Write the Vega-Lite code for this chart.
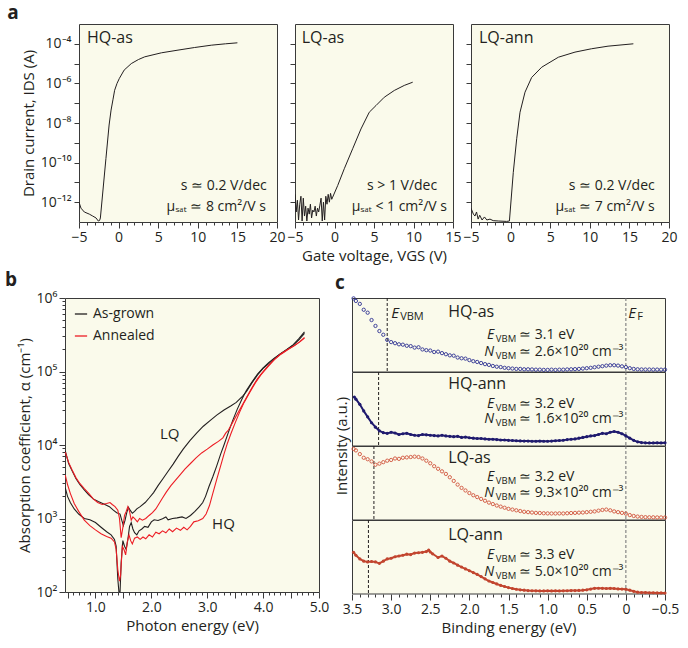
{
"$schema": "https://vega.github.io/schema/vega-lite/v6.json",
"padding": {"left": 4, "top": 3, "right": 4, "bottom": 4},
"background": "white",
"columns": 1,
"spacing": 6,
"resolve": {"scale": {"color": "independent"}, "legend": {"color": "independent"}},
"config": {
  "font": "Open Sans",
  "view": {"fill": "#fafaeb", "stroke": "#3a3a3a", "strokeWidth": 1},
  "axis": {"domain": false, "grid": false, "tickColor": "#3a3a3a", "tickWidth": 1, "labelColor": "#231f20", "titleColor": "#231f20", "labelFontSize": 14, "titleFontSize": 15, "titleFontWeight": "normal", "labelFont": "Open Sans", "titleFont": "Open Sans", "labelFlush": false, "labelOverlap": false},
  "title": {"anchor": "start", "frame": "bounds", "fontSize": 19, "fontWeight": "bold", "color": "#231f20", "offset": 1, "font": "Open Sans"},
  "text": {"color": "#231f20", "font": "Open Sans"}
},
"concat": [
 {"hconcat": [
  {"width": 1, "height": 1, "data": {"values": [{"z": 0}]}, "mark": {"type": "point", "opacity": 0}, "view": {"stroke": null, "fill": null}},
  {"hconcat": [
  {"width": 198, "height": 198, "title": {"text": "a", "dx": -14},
   "layer": [
    {"data": {"values": [
      {"v":-5.0,"i":1.0e-12},{"v":-4.75,"i":5.0e-13},{"v":-4.33,"i":3.2e-13},{"v":-3.7,"i":2.5e-13},{"v":-3.27,"i":2.0e-13},{"v":-2.85,"i":1.6e-13},{"v":-2.56,"i":1.12e-13},{"v":-2.4,"i":1.2e-13},{"v":-2.3,"i":1.6e-13},{"v":-1.6,"i":1.6e-10},{"v":-1.2,"i":7.9e-9},{"v":-0.95,"i":4.5e-8},{"v":-0.7,"i":1.6e-7},{"v":-0.5,"i":4.5e-7},{"v":-0.2,"i":1.0e-6},{"v":0.1,"i":1.8e-6},{"v":0.7,"i":4.7e-6},{"v":1.6,"i":1.0e-5},{"v":2.5,"i":1.6e-5},{"v":3.3,"i":2.2e-5},{"v":5.4,"i":3.5e-5},{"v":7.5,"i":4.8e-5},{"v":9.6,"i":6.5e-5},{"v":11.7,"i":8.5e-5},{"v":13.5,"i":1.0e-4},{"v":15.0,"i":1.12e-4}]},
     "mark": {"type": "line", "color": "#231f20", "strokeWidth": 1, "clip": true},
     "encoding": {
      "x": {"field": "v", "type": "quantitative", "scale": {"domain": [-5, 20], "nice": false, "zero": false},
            "axis": {"values": [-5,-4,-3,-2,-1,0,1,2,3,4,5,6,7,8,9,10,11,12,13,14,15,16,17,18,19,20], "tickCount": 100, "labelExpr": "datum.value % 5 == 0 ? format(datum.value, 'd') : ''", "tickSize": {"condition": {"test": "datum.value % 5 == 0", "value": 6}, "value": 3}, "labelPadding": 2, "labelOverlap": false, "title": null}},
      "y": {"field": "i", "type": "quantitative", "scale": {"type": "log", "domain": [1e-13, 0.001], "nice": false},
            "axis": {"values": [1e-12,1e-11,1e-10,1e-9,1e-8,1e-7,1e-6,1e-5,1e-4], "tickCount": 100, "labelExpr": "round(log(datum.value)/LN10) == -4 ? '10⁻⁴' : round(log(datum.value)/LN10) == -6 ? '10⁻⁶' : round(log(datum.value)/LN10) == -8 ? '10⁻⁸' : round(log(datum.value)/LN10) == -10 ? '10⁻¹⁰' : round(log(datum.value)/LN10) == -12 ? '10⁻¹²' : ''", "tickSize": 5, "labelPadding": 3, "labelOverlap": false, "title": "Drain current, IDS (A)", "titlePadding": 4}}
     }},
    {"data": {"values": [{"v": -4.0, "i": 1.86e-4, "t": "HQ-as"}]},
     "mark": {"type": "text", "align": "left", "baseline": "middle", "fontSize": 16},
     "encoding": {"x": {"field": "v", "type": "quantitative"}, "y": {"field": "i", "type": "quantitative"}, "text": {"field": "t"}}},
    {"data": {"values": [{"v": 18.7, "i": 6.5e-12, "t": "s ≃ 0.2 V/dec"}, {"v": 18.6, "i": 5.9e-13, "t": "μₛₐₜ ≃ 8 cm²/V s"}]},
     "mark": {"type": "text", "align": "right", "baseline": "middle", "fontSize": 14},
     "encoding": {"x": {"field": "v", "type": "quantitative"}, "y": {"field": "i", "type": "quantitative"}, "text": {"field": "t"}}}
   ]},
  {"width": 158, "height": 198,
   "layer": [
    {"data": {"values": [
      {"v":-5.0,"i":2.5e-12},{"v":-4.85,"i":3.2e-13},{"v":-4.7,"i":1.26e-12},{"v":-4.55,"i":1.26e-13},{"v":-4.4,"i":7.9e-13},{"v":-4.25,"i":2.0e-12},{"v":-4.1,"i":1.12e-13},{"v":-3.95,"i":1.6e-12},{"v":-3.8,"i":2.0e-13},{"v":-3.65,"i":6.3e-13},{"v":-3.5,"i":1.12e-13},{"v":-3.35,"i":5.0e-13},{"v":-3.2,"i":2.5e-13},{"v":-3.05,"i":7.9e-13},{"v":-2.9,"i":1.6e-13},{"v":-2.75,"i":4.0e-13},{"v":-2.6,"i":3.2e-13},{"v":-2.45,"i":6.3e-13},{"v":-2.3,"i":2.0e-13},{"v":-2.15,"i":5.0e-13},{"v":-2.0,"i":3.2e-13},{"v":-1.85,"i":7.1e-13},{"v":-1.7,"i":1.6e-12},{"v":-1.55,"i":1.12e-13},{"v":-1.4,"i":1.0e-12},{"v":-1.25,"i":1.26e-13},{"v":-1.1,"i":2.0e-12},{"v":-0.95,"i":7.9e-13},{"v":-0.8,"i":2.5e-12},{"v":-0.65,"i":1.0e-12},{"v":-0.5,"i":2.8e-12},{"v":-0.35,"i":1.4e-12},{"v":-0.23,"i":1.8e-12},{"v":0.4,"i":6.9e-12},{"v":1.24,"i":4.9e-11},{"v":2.3,"i":5.0e-10},{"v":3.35,"i":5.0e-9},{"v":4.4,"i":3.5e-8},{"v":5.25,"i":7.6e-8},{"v":6.3,"i":2.0e-7},{"v":7.57,"i":4.4e-7},{"v":8.83,"i":7.9e-7},{"v":9.9,"i":1.15e-6}]},
     "mark": {"type": "line", "color": "#231f20", "strokeWidth": 1, "clip": true},
     "encoding": {
      "x": {"field": "v", "type": "quantitative", "scale": {"domain": [-5, 15], "nice": false, "zero": false},
            "axis": {"values": [-5,-4,-3,-2,-1,0,1,2,3,4,5,6,7,8,9,10,11,12,13,14,15], "tickCount": 100, "labelExpr": "datum.value % 5 == 0 ? format(datum.value, 'd') : ''", "tickSize": {"condition": {"test": "datum.value % 5 == 0", "value": 6}, "value": 3}, "labelPadding": 2, "labelOverlap": false, "title": "Gate voltage, VGS (V)", "titlePadding": 4}},
      "y": {"field": "i", "type": "quantitative", "scale": {"type": "log", "domain": [1e-13, 0.001], "nice": false},
            "axis": {"values": [1e-12,1e-11,1e-10,1e-9,1e-8,1e-7,1e-6,1e-5,1e-4], "tickCount": 100, "labels": false, "tickSize": 5, "title": null}}
     }},
    {"data": {"values": [{"v": -4.15, "i": 1.86e-4, "t": "LQ-as"}]},
     "mark": {"type": "text", "align": "left", "baseline": "middle", "fontSize": 16},
     "encoding": {"x": {"field": "v", "type": "quantitative"}, "y": {"field": "i", "type": "quantitative"}, "text": {"field": "t"}}},
    {"data": {"values": [{"v": 13.0, "i": 6.5e-12, "t": "s > 1 V/dec"}, {"v": 14.24, "i": 5.9e-13, "t": "μₛₐₜ < 1 cm²/V s"}]},
     "mark": {"type": "text", "align": "right", "baseline": "middle", "fontSize": 14},
     "encoding": {"x": {"field": "v", "type": "quantitative"}, "y": {"field": "i", "type": "quantitative"}, "text": {"field": "t"}}}
   ]},
  {"width": 198, "height": 198,
   "layer": [
    {"data": {"values": [
      {"v":-5.0,"i":5.0e-13},{"v":-4.7,"i":2.5e-13},{"v":-4.5,"i":2.0e-13},{"v":-4.3,"i":3.2e-13},{"v":-4.1,"i":1.4e-13},{"v":-3.9,"i":2.2e-13},{"v":-3.6,"i":1.26e-13},{"v":-3.3,"i":1.8e-13},{"v":-3.0,"i":1.26e-13},{"v":-2.6,"i":1.4e-13},{"v":-2.2,"i":1.17e-13},{"v":-1.5,"i":1.12e-13},{"v":-0.5,"i":1.07e-13},{"v":-0.15,"i":1.12e-13},{"v":0.34,"i":3.2e-11},{"v":0.77,"i":1.6e-9},{"v":1.19,"i":3.5e-8},{"v":1.82,"i":3.6e-7},{"v":2.66,"i":2.0e-6},{"v":3.93,"i":6.6e-6},{"v":6.03,"i":2.1e-5},{"v":8.13,"i":3.8e-5},{"v":10.2,"i":5.6e-5},{"v":12.3,"i":7.6e-5},{"v":15.5,"i":1.0e-4}]},
     "mark": {"type": "line", "color": "#231f20", "strokeWidth": 1, "clip": true},
     "encoding": {
      "x": {"field": "v", "type": "quantitative", "scale": {"domain": [-5, 20], "nice": false, "zero": false},
            "axis": {"values": [-5,-4,-3,-2,-1,0,1,2,3,4,5,6,7,8,9,10,11,12,13,14,15,16,17,18,19,20], "tickCount": 100, "labelExpr": "datum.value % 5 == 0 ? format(datum.value, 'd') : ''", "tickSize": {"condition": {"test": "datum.value % 5 == 0", "value": 6}, "value": 3}, "labelPadding": 2, "labelOverlap": false, "title": null}},
      "y": {"field": "i", "type": "quantitative", "scale": {"type": "log", "domain": [1e-13, 0.001], "nice": false},
            "axis": {"values": [1e-12,1e-11,1e-10,1e-9,1e-8,1e-7,1e-6,1e-5,1e-4], "tickCount": 100, "labels": false, "tickSize": 5, "title": null}}
     }},
    {"data": {"values": [{"v": -3.99, "i": 1.86e-4, "t": "LQ-ann"}]},
     "mark": {"type": "text", "align": "left", "baseline": "middle", "fontSize": 16},
     "encoding": {"x": {"field": "v", "type": "quantitative"}, "y": {"field": "i", "type": "quantitative"}, "text": {"field": "t"}}},
    {"data": {"values": [{"v": 18.2, "i": 6.5e-12, "t": "s ≃ 0.2 V/dec"}, {"v": 18.2, "i": 5.9e-13, "t": "μₛₐₜ ≃ 7 cm²/V s"}]},
     "mark": {"type": "text", "align": "right", "baseline": "middle", "fontSize": 14},
     "encoding": {"x": {"field": "v", "type": "quantitative"}, "y": {"field": "i", "type": "quantitative"}, "text": {"field": "t"}}}
   ]}
  ], "spacing": 18, "bounds": "flush"}
 ], "spacing": 13, "bounds": "flush"},
 {"hconcat": [
  {"width": 254, "height": 294, "title": {"text": "b", "dx": -12},
   "layer": [
    {"data": {"values": [
      {"q":"LQ","t":"As-grown","e":0.46,"a":8300},{"q":"LQ","t":"As-grown","e":0.52,"a":5600},{"q":"LQ","t":"As-grown","e":0.58,"a":4500},{"q":"LQ","t":"As-grown","e":0.65,"a":3500},{"q":"LQ","t":"As-grown","e":0.72,"a":2900},{"q":"LQ","t":"As-grown","e":0.8,"a":2450},{"q":"LQ","t":"As-grown","e":0.88,"a":2100},{"q":"LQ","t":"As-grown","e":0.96,"a":1850},{"q":"LQ","t":"As-grown","e":1.05,"a":1700},{"q":"LQ","t":"As-grown","e":1.15,"a":1580},{"q":"LQ","t":"As-grown","e":1.25,"a":1450},{"q":"LQ","t":"As-grown","e":1.32,"a":1300},{"q":"LQ","t":"As-grown","e":1.38,"a":1200},{"q":"LQ","t":"As-grown","e":1.44,"a":1150},{"q":"LQ","t":"As-grown","e":1.47,"a":950},{"q":"LQ","t":"As-grown","e":1.5,"a":800},{"q":"LQ","t":"As-grown","e":1.53,"a":950},{"q":"LQ","t":"As-grown","e":1.56,"a":1200},{"q":"LQ","t":"As-grown","e":1.59,"a":1420},{"q":"LQ","t":"As-grown","e":1.62,"a":1300},{"q":"LQ","t":"As-grown","e":1.66,"a":1180},{"q":"LQ","t":"As-grown","e":1.7,"a":1250},{"q":"LQ","t":"As-grown","e":1.74,"a":1350},{"q":"LQ","t":"As-grown","e":1.8,"a":1450},{"q":"LQ","t":"As-grown","e":1.89,"a":1650},{"q":"LQ","t":"As-grown","e":1.96,"a":1900},{"q":"LQ","t":"As-grown","e":2.04,"a":2250},{"q":"LQ","t":"As-grown","e":2.12,"a":2800},{"q":"LQ","t":"As-grown","e":2.21,"a":3500},{"q":"LQ","t":"As-grown","e":2.3,"a":4400},{"q":"LQ","t":"As-grown","e":2.39,"a":5500},{"q":"LQ","t":"As-grown","e":2.48,"a":7000},{"q":"LQ","t":"As-grown","e":2.57,"a":8800},{"q":"LQ","t":"As-grown","e":2.69,"a":11500},{"q":"LQ","t":"As-grown","e":2.81,"a":14500},{"q":"LQ","t":"As-grown","e":2.93,"a":18000},{"q":"LQ","t":"As-grown","e":3.05,"a":21500},{"q":"LQ","t":"As-grown","e":3.17,"a":25500},{"q":"LQ","t":"As-grown","e":3.3,"a":30000},{"q":"LQ","t":"As-grown","e":3.42,"a":34000},{"q":"LQ","t":"As-grown","e":3.52,"a":38000},{"q":"LQ","t":"As-grown","e":3.62,"a":45000},{"q":"LQ","t":"As-grown","e":3.7,"a":53000},{"q":"LQ","t":"As-grown","e":3.8,"a":70000},{"q":"LQ","t":"As-grown","e":3.9,"a":90000},{"q":"LQ","t":"As-grown","e":4.0,"a":110000},{"q":"LQ","t":"As-grown","e":4.1,"a":128000},{"q":"LQ","t":"As-grown","e":4.2,"a":150000},{"q":"LQ","t":"As-grown","e":4.3,"a":172000},{"q":"LQ","t":"As-grown","e":4.42,"a":198000},{"q":"LQ","t":"As-grown","e":4.54,"a":228000},{"q":"LQ","t":"As-grown","e":4.64,"a":270000},{"q":"LQ","t":"As-grown","e":4.74,"a":330000},
      {"q":"HQ","t":"As-grown","e":0.46,"a":2600},{"q":"HQ","t":"As-grown","e":0.5,"a":2000},{"q":"HQ","t":"As-grown","e":0.55,"a":1650},{"q":"HQ","t":"As-grown","e":0.62,"a":1350},{"q":"HQ","t":"As-grown","e":0.7,"a":1150},{"q":"HQ","t":"As-grown","e":0.8,"a":1000},{"q":"HQ","t":"As-grown","e":0.9,"a":960},{"q":"HQ","t":"As-grown","e":1.0,"a":880},{"q":"HQ","t":"As-grown","e":1.1,"a":760},{"q":"HQ","t":"As-grown","e":1.2,"a":660},{"q":"HQ","t":"As-grown","e":1.28,"a":600},{"q":"HQ","t":"As-grown","e":1.34,"a":520},{"q":"HQ","t":"As-grown","e":1.37,"a":420},{"q":"HQ","t":"As-grown","e":1.4,"a":150},{"q":"HQ","t":"As-grown","e":1.42,"a":100},{"q":"HQ","t":"As-grown","e":1.44,"a":100},{"q":"HQ","t":"As-grown","e":1.46,"a":250},{"q":"HQ","t":"As-grown","e":1.49,"a":500},{"q":"HQ","t":"As-grown","e":1.52,"a":420},{"q":"HQ","t":"As-grown","e":1.55,"a":380},{"q":"HQ","t":"As-grown","e":1.58,"a":520},{"q":"HQ","t":"As-grown","e":1.61,"a":780},{"q":"HQ","t":"As-grown","e":1.64,"a":880},{"q":"HQ","t":"As-grown","e":1.67,"a":720},{"q":"HQ","t":"As-grown","e":1.7,"a":640},{"q":"HQ","t":"As-grown","e":1.74,"a":600},{"q":"HQ","t":"As-grown","e":1.78,"a":680},{"q":"HQ","t":"As-grown","e":1.83,"a":720},{"q":"HQ","t":"As-grown","e":1.88,"a":780},{"q":"HQ","t":"As-grown","e":1.94,"a":760},{"q":"HQ","t":"As-grown","e":2.0,"a":900},{"q":"HQ","t":"As-grown","e":2.05,"a":960},{"q":"HQ","t":"As-grown","e":2.12,"a":940},{"q":"HQ","t":"As-grown","e":2.2,"a":990},{"q":"HQ","t":"As-grown","e":2.26,"a":1050},{"q":"HQ","t":"As-grown","e":2.3,"a":960},{"q":"HQ","t":"As-grown","e":2.38,"a":1000},{"q":"HQ","t":"As-grown","e":2.46,"a":1020},{"q":"HQ","t":"As-grown","e":2.55,"a":1050},{"q":"HQ","t":"As-grown","e":2.62,"a":1000},{"q":"HQ","t":"As-grown","e":2.7,"a":1100},{"q":"HQ","t":"As-grown","e":2.78,"a":1250},{"q":"HQ","t":"As-grown","e":2.86,"a":1450},{"q":"HQ","t":"As-grown","e":2.92,"a":1650},{"q":"HQ","t":"As-grown","e":2.97,"a":2000},{"q":"HQ","t":"As-grown","e":3.03,"a":2700},{"q":"HQ","t":"As-grown","e":3.1,"a":3700},{"q":"HQ","t":"As-grown","e":3.17,"a":5200},{"q":"HQ","t":"As-grown","e":3.24,"a":7500},{"q":"HQ","t":"As-grown","e":3.3,"a":10000},{"q":"HQ","t":"As-grown","e":3.38,"a":15000},{"q":"HQ","t":"As-grown","e":3.46,"a":22000},{"q":"HQ","t":"As-grown","e":3.54,"a":31000},{"q":"HQ","t":"As-grown","e":3.62,"a":42000},{"q":"HQ","t":"As-grown","e":3.7,"a":55000},{"q":"HQ","t":"As-grown","e":3.8,"a":72000},{"q":"HQ","t":"As-grown","e":3.9,"a":92000},{"q":"HQ","t":"As-grown","e":4.0,"a":112000},{"q":"HQ","t":"As-grown","e":4.1,"a":132000},{"q":"HQ","t":"As-grown","e":4.2,"a":152000},{"q":"HQ","t":"As-grown","e":4.3,"a":172000},{"q":"HQ","t":"As-grown","e":4.42,"a":198000},{"q":"HQ","t":"As-grown","e":4.54,"a":232000},{"q":"HQ","t":"As-grown","e":4.64,"a":280000},{"q":"HQ","t":"As-grown","e":4.74,"a":345000},
      {"q":"HQ","t":"Annealed","e":0.46,"a":3900},{"q":"HQ","t":"Annealed","e":0.5,"a":2900},{"q":"HQ","t":"Annealed","e":0.55,"a":2200},{"q":"HQ","t":"Annealed","e":0.62,"a":1600},{"q":"HQ","t":"Annealed","e":0.7,"a":1250},{"q":"HQ","t":"Annealed","e":0.8,"a":950},{"q":"HQ","t":"Annealed","e":0.9,"a":800},{"q":"HQ","t":"Annealed","e":1.0,"a":700},{"q":"HQ","t":"Annealed","e":1.1,"a":620},{"q":"HQ","t":"Annealed","e":1.2,"a":570},{"q":"HQ","t":"Annealed","e":1.28,"a":540},{"q":"HQ","t":"Annealed","e":1.34,"a":480},{"q":"HQ","t":"Annealed","e":1.37,"a":380},{"q":"HQ","t":"Annealed","e":1.4,"a":200},{"q":"HQ","t":"Annealed","e":1.43,"a":140},{"q":"HQ","t":"Annealed","e":1.45,"a":170},{"q":"HQ","t":"Annealed","e":1.48,"a":420},{"q":"HQ","t":"Annealed","e":1.51,"a":380},{"q":"HQ","t":"Annealed","e":1.54,"a":320},{"q":"HQ","t":"Annealed","e":1.57,"a":480},{"q":"HQ","t":"Annealed","e":1.6,"a":600},{"q":"HQ","t":"Annealed","e":1.63,"a":500},{"q":"HQ","t":"Annealed","e":1.66,"a":450},{"q":"HQ","t":"Annealed","e":1.7,"a":540},{"q":"HQ","t":"Annealed","e":1.75,"a":560},{"q":"HQ","t":"Annealed","e":1.8,"a":520},{"q":"HQ","t":"Annealed","e":1.85,"a":560},{"q":"HQ","t":"Annealed","e":1.9,"a":530},{"q":"HQ","t":"Annealed","e":1.96,"a":600},{"q":"HQ","t":"Annealed","e":2.02,"a":560},{"q":"HQ","t":"Annealed","e":2.08,"a":650},{"q":"HQ","t":"Annealed","e":2.14,"a":620},{"q":"HQ","t":"Annealed","e":2.2,"a":680},{"q":"HQ","t":"Annealed","e":2.26,"a":640},{"q":"HQ","t":"Annealed","e":2.32,"a":720},{"q":"HQ","t":"Annealed","e":2.38,"a":660},{"q":"HQ","t":"Annealed","e":2.45,"a":740},{"q":"HQ","t":"Annealed","e":2.52,"a":690},{"q":"HQ","t":"Annealed","e":2.58,"a":760},{"q":"HQ","t":"Annealed","e":2.64,"a":700},{"q":"HQ","t":"Annealed","e":2.7,"a":780},{"q":"HQ","t":"Annealed","e":2.76,"a":900},{"q":"HQ","t":"Annealed","e":2.84,"a":930},{"q":"HQ","t":"Annealed","e":2.92,"a":1000},{"q":"HQ","t":"Annealed","e":2.98,"a":1150},{"q":"HQ","t":"Annealed","e":3.04,"a":1500},{"q":"HQ","t":"Annealed","e":3.1,"a":2200},{"q":"HQ","t":"Annealed","e":3.17,"a":3400},{"q":"HQ","t":"Annealed","e":3.24,"a":5200},{"q":"HQ","t":"Annealed","e":3.3,"a":7500},{"q":"HQ","t":"Annealed","e":3.36,"a":10500},{"q":"HQ","t":"Annealed","e":3.42,"a":14000},{"q":"HQ","t":"Annealed","e":3.5,"a":20000},{"q":"HQ","t":"Annealed","e":3.58,"a":28000},{"q":"HQ","t":"Annealed","e":3.66,"a":38000},{"q":"HQ","t":"Annealed","e":3.76,"a":52000},{"q":"HQ","t":"Annealed","e":3.86,"a":70000},{"q":"HQ","t":"Annealed","e":3.96,"a":90000},{"q":"HQ","t":"Annealed","e":4.08,"a":115000},{"q":"HQ","t":"Annealed","e":4.2,"a":145000},{"q":"HQ","t":"Annealed","e":4.32,"a":175000},{"q":"HQ","t":"Annealed","e":4.44,"a":200000},{"q":"HQ","t":"Annealed","e":4.56,"a":225000},{"q":"HQ","t":"Annealed","e":4.66,"a":255000},{"q":"HQ","t":"Annealed","e":4.74,"a":285000},
      {"q":"LQ","t":"Annealed","e":0.46,"a":8000},{"q":"LQ","t":"Annealed","e":0.52,"a":5800},{"q":"LQ","t":"Annealed","e":0.58,"a":4600},{"q":"LQ","t":"Annealed","e":0.65,"a":3600},{"q":"LQ","t":"Annealed","e":0.72,"a":3000},{"q":"LQ","t":"Annealed","e":0.8,"a":2550},{"q":"LQ","t":"Annealed","e":0.88,"a":2200},{"q":"LQ","t":"Annealed","e":0.96,"a":1850},{"q":"LQ","t":"Annealed","e":1.04,"a":1650},{"q":"LQ","t":"Annealed","e":1.12,"a":1550},{"q":"LQ","t":"Annealed","e":1.2,"a":1600},{"q":"LQ","t":"Annealed","e":1.26,"a":1650},{"q":"LQ","t":"Annealed","e":1.3,"a":1550},{"q":"LQ","t":"Annealed","e":1.35,"a":1450},{"q":"LQ","t":"Annealed","e":1.4,"a":1300},{"q":"LQ","t":"Annealed","e":1.43,"a":1000},{"q":"LQ","t":"Annealed","e":1.46,"a":550},{"q":"LQ","t":"Annealed","e":1.49,"a":750},{"q":"LQ","t":"Annealed","e":1.52,"a":1100},{"q":"LQ","t":"Annealed","e":1.55,"a":1250},{"q":"LQ","t":"Annealed","e":1.58,"a":1450},{"q":"LQ","t":"Annealed","e":1.61,"a":1250},{"q":"LQ","t":"Annealed","e":1.64,"a":950},{"q":"LQ","t":"Annealed","e":1.67,"a":1050},{"q":"LQ","t":"Annealed","e":1.71,"a":980},{"q":"LQ","t":"Annealed","e":1.75,"a":900},{"q":"LQ","t":"Annealed","e":1.79,"a":1000},{"q":"LQ","t":"Annealed","e":1.84,"a":950},{"q":"LQ","t":"Annealed","e":1.9,"a":1000},{"q":"LQ","t":"Annealed","e":1.96,"a":1100},{"q":"LQ","t":"Annealed","e":2.02,"a":1200},{"q":"LQ","t":"Annealed","e":2.08,"a":1350},{"q":"LQ","t":"Annealed","e":2.14,"a":1600},{"q":"LQ","t":"Annealed","e":2.2,"a":1900},{"q":"LQ","t":"Annealed","e":2.27,"a":2300},{"q":"LQ","t":"Annealed","e":2.35,"a":2800},{"q":"LQ","t":"Annealed","e":2.43,"a":3300},{"q":"LQ","t":"Annealed","e":2.51,"a":3900},{"q":"LQ","t":"Annealed","e":2.6,"a":4700},{"q":"LQ","t":"Annealed","e":2.7,"a":5600},{"q":"LQ","t":"Annealed","e":2.8,"a":6700},{"q":"LQ","t":"Annealed","e":2.9,"a":7800},{"q":"LQ","t":"Annealed","e":3.0,"a":8800},{"q":"LQ","t":"Annealed","e":3.1,"a":10000},{"q":"LQ","t":"Annealed","e":3.2,"a":11200},{"q":"LQ","t":"Annealed","e":3.28,"a":12500},{"q":"LQ","t":"Annealed","e":3.33,"a":14500},{"q":"LQ","t":"Annealed","e":3.38,"a":16000},{"q":"LQ","t":"Annealed","e":3.45,"a":20000},{"q":"LQ","t":"Annealed","e":3.52,"a":25000},{"q":"LQ","t":"Annealed","e":3.6,"a":32000},{"q":"LQ","t":"Annealed","e":3.7,"a":44000},{"q":"LQ","t":"Annealed","e":3.8,"a":60000},{"q":"LQ","t":"Annealed","e":3.9,"a":80000},{"q":"LQ","t":"Annealed","e":4.0,"a":100000},{"q":"LQ","t":"Annealed","e":4.1,"a":122000},{"q":"LQ","t":"Annealed","e":4.2,"a":145000},{"q":"LQ","t":"Annealed","e":4.32,"a":172000},{"q":"LQ","t":"Annealed","e":4.44,"a":198000},{"q":"LQ","t":"Annealed","e":4.56,"a":225000},{"q":"LQ","t":"Annealed","e":4.66,"a":255000},{"q":"LQ","t":"Annealed","e":4.74,"a":290000}]},
     "mark": {"type": "line", "strokeWidth": 1.1, "clip": true},
     "encoding": {
      "x": {"field": "e", "type": "quantitative", "scale": {"domain": [0.455, 5.0], "nice": false, "zero": false},
            "axis": {"values": [0.5,0.6,0.7,0.8,0.9,1,1.1,1.2,1.3,1.4,1.5,1.6,1.7,1.8,1.9,2,2.1,2.2,2.3,2.4,2.5,2.6,2.7,2.8,2.9,3,3.1,3.2,3.3,3.4,3.5,3.6,3.7,3.8,3.9,4,4.1,4.2,4.3,4.4,4.5,4.6,4.7,4.8,4.9,5], "tickCount": 100, "labelExpr": "datum.value % 1 == 0 ? format(datum.value, '.1f') : ''", "tickSize": {"condition": {"test": "(datum.value * 2) % 1 == 0", "value": 6}, "value": 3}, "labelPadding": 2, "labelOverlap": false, "title": "Photon energy (eV)", "titlePadding": 4}},
      "y": {"field": "a", "type": "quantitative", "scale": {"type": "log", "domain": [100, 1000000], "nice": false},
            "axis": {"values": [100,200,300,400,500,600,700,800,900,1000,2000,3000,4000,5000,6000,7000,8000,9000,10000,20000,30000,40000,50000,60000,70000,80000,90000,100000,200000,300000,400000,500000,600000,700000,800000,900000,1000000], "tickCount": 100, "labelExpr": "abs(log(datum.value)/LN10 - round(log(datum.value)/LN10)) < 0.01 ? '10' + (round(log(datum.value)/LN10) == 2 ? '²' : round(log(datum.value)/LN10) == 3 ? '³' : round(log(datum.value)/LN10) == 4 ? '⁴' : round(log(datum.value)/LN10) == 5 ? '⁵' : '⁶') : ''", "tickSize": {"condition": {"test": "abs(log(datum.value)/LN10 - round(log(datum.value)/LN10)) < 0.01", "value": 6}, "value": 3}, "labelPadding": 2, "labelOverlap": false, "title": "Absorption coefficient, α (cm⁻¹)", "titlePadding": 4}},
      "color": {"field": "t", "type": "nominal", "scale": {"domain": ["As-grown", "Annealed"], "range": ["#231f20", "#ed1c24"]},
                "legend": {"orient": "top-left", "title": null, "offset": 9, "padding": 0, "symbolType": "stroke", "symbolSize": 150, "symbolStrokeWidth": 1.3, "labelFontSize": 14, "labelColor": "#231f20", "labelFont": "Open Sans", "rowPadding": 8, "labelOffset": 5}},
      "detail": {"field": "q"}
     }},
    {"data": {"values": [{"e": 2.33, "a": 14000, "t": "LQ"}, {"e": 3.29, "a": 830, "t": "HQ"}]},
     "mark": {"type": "text", "align": "center", "baseline": "middle", "fontSize": 15},
     "encoding": {"x": {"field": "e", "type": "quantitative"}, "y": {"field": "a", "type": "quantitative"}, "text": {"field": "t"}}}
   ]},
  {"title": {"text": "c"},
   "data": {"values": [
    {"s":"HQ-as","k":"p","b":3.48,"v":0.995},{"s":"HQ-as","k":"p","b":3.45,"v":0.96},{"s":"HQ-as","k":"p","b":3.4,"v":0.92},{"s":"HQ-as","k":"p","b":3.35,"v":0.84},{"s":"HQ-as","k":"p","b":3.3,"v":0.8},{"s":"HQ-as","k":"p","b":3.25,"v":0.7},{"s":"HQ-as","k":"p","b":3.2,"v":0.62},{"s":"HQ-as","k":"p","b":3.15,"v":0.55},{"s":"HQ-as","k":"p","b":3.1,"v":0.5},{"s":"HQ-as","k":"p","b":3.05,"v":0.43},{"s":"HQ-as","k":"p","b":3.0,"v":0.4},{"s":"HQ-as","k":"p","b":2.95,"v":0.385},{"s":"HQ-as","k":"p","b":2.9,"v":0.37},{"s":"HQ-as","k":"p","b":2.85,"v":0.365},{"s":"HQ-as","k":"p","b":2.8,"v":0.35},{"s":"HQ-as","k":"p","b":2.75,"v":0.345},{"s":"HQ-as","k":"p","b":2.7,"v":0.325},{"s":"HQ-as","k":"p","b":2.65,"v":0.33},{"s":"HQ-as","k":"p","b":2.6,"v":0.3},{"s":"HQ-as","k":"p","b":2.55,"v":0.29},{"s":"HQ-as","k":"p","b":2.5,"v":0.285},{"s":"HQ-as","k":"p","b":2.45,"v":0.265},{"s":"HQ-as","k":"p","b":2.4,"v":0.27},{"s":"HQ-as","k":"p","b":2.35,"v":0.25},{"s":"HQ-as","k":"p","b":2.3,"v":0.235},{"s":"HQ-as","k":"p","b":2.25,"v":0.22},{"s":"HQ-as","k":"p","b":2.2,"v":0.215},{"s":"HQ-as","k":"p","b":2.15,"v":0.19},{"s":"HQ-as","k":"p","b":2.1,"v":0.18},{"s":"HQ-as","k":"p","b":2.05,"v":0.175},{"s":"HQ-as","k":"p","b":2.0,"v":0.155},{"s":"HQ-as","k":"p","b":1.95,"v":0.14},{"s":"HQ-as","k":"p","b":1.9,"v":0.13},{"s":"HQ-as","k":"p","b":1.85,"v":0.115},{"s":"HQ-as","k":"p","b":1.8,"v":0.1},{"s":"HQ-as","k":"p","b":1.75,"v":0.09},{"s":"HQ-as","k":"p","b":1.7,"v":0.075},{"s":"HQ-as","k":"p","b":1.65,"v":0.065},{"s":"HQ-as","k":"p","b":1.6,"v":0.06},{"s":"HQ-as","k":"p","b":1.55,"v":0.05},{"s":"HQ-as","k":"p","b":1.5,"v":0.045},{"s":"HQ-as","k":"p","b":1.45,"v":0.04},{"s":"HQ-as","k":"p","b":1.4,"v":0.035},{"s":"HQ-as","k":"p","b":1.35,"v":0.035},{"s":"HQ-as","k":"p","b":1.3,"v":0.03},{"s":"HQ-as","k":"p","b":1.25,"v":0.03},{"s":"HQ-as","k":"p","b":1.2,"v":0.028},{"s":"HQ-as","k":"p","b":1.15,"v":0.025},{"s":"HQ-as","k":"p","b":1.1,"v":0.025},{"s":"HQ-as","k":"p","b":1.05,"v":0.022},{"s":"HQ-as","k":"p","b":1.0,"v":0.022},{"s":"HQ-as","k":"p","b":0.95,"v":0.025},{"s":"HQ-as","k":"p","b":0.9,"v":0.022},{"s":"HQ-as","k":"p","b":0.85,"v":0.025},{"s":"HQ-as","k":"p","b":0.8,"v":0.025},{"s":"HQ-as","k":"p","b":0.75,"v":0.028},{"s":"HQ-as","k":"p","b":0.7,"v":0.03},{"s":"HQ-as","k":"p","b":0.65,"v":0.032},{"s":"HQ-as","k":"p","b":0.6,"v":0.035},{"s":"HQ-as","k":"p","b":0.55,"v":0.04},{"s":"HQ-as","k":"p","b":0.5,"v":0.045},{"s":"HQ-as","k":"p","b":0.45,"v":0.05},{"s":"HQ-as","k":"p","b":0.4,"v":0.058},{"s":"HQ-as","k":"p","b":0.35,"v":0.065},{"s":"HQ-as","k":"p","b":0.3,"v":0.072},{"s":"HQ-as","k":"p","b":0.25,"v":0.08},{"s":"HQ-as","k":"p","b":0.2,"v":0.085},{"s":"HQ-as","k":"p","b":0.15,"v":0.085},{"s":"HQ-as","k":"p","b":0.1,"v":0.08},{"s":"HQ-as","k":"p","b":0.05,"v":0.07},{"s":"HQ-as","k":"p","b":0.0,"v":0.06},{"s":"HQ-as","k":"p","b":-0.05,"v":0.045},{"s":"HQ-as","k":"p","b":-0.1,"v":0.035},{"s":"HQ-as","k":"p","b":-0.15,"v":0.03},{"s":"HQ-as","k":"p","b":-0.2,"v":0.028},{"s":"HQ-as","k":"p","b":-0.25,"v":0.027},{"s":"HQ-as","k":"p","b":-0.3,"v":0.027},{"s":"HQ-as","k":"p","b":-0.35,"v":0.026},{"s":"HQ-as","k":"p","b":-0.4,"v":0.026},{"s":"HQ-as","k":"p","b":-0.45,"v":0.025},{"s":"HQ-as","k":"p","b":-0.5,"v":0.025},
    {"s":"HQ-ann","k":"p","b":3.47,"v":0.66},{"s":"HQ-ann","k":"p","b":3.45,"v":0.63},{"s":"HQ-ann","k":"p","b":3.4,"v":0.56},{"s":"HQ-ann","k":"p","b":3.35,"v":0.47},{"s":"HQ-ann","k":"p","b":3.3,"v":0.39},{"s":"HQ-ann","k":"p","b":3.25,"v":0.31},{"s":"HQ-ann","k":"p","b":3.2,"v":0.25},{"s":"HQ-ann","k":"p","b":3.15,"v":0.2},{"s":"HQ-ann","k":"p","b":3.1,"v":0.175},{"s":"HQ-ann","k":"p","b":3.05,"v":0.165},{"s":"HQ-ann","k":"p","b":3.0,"v":0.18},{"s":"HQ-ann","k":"p","b":2.95,"v":0.17},{"s":"HQ-ann","k":"p","b":2.9,"v":0.15},{"s":"HQ-ann","k":"p","b":2.85,"v":0.16},{"s":"HQ-ann","k":"p","b":2.8,"v":0.165},{"s":"HQ-ann","k":"p","b":2.75,"v":0.15},{"s":"HQ-ann","k":"p","b":2.7,"v":0.14},{"s":"HQ-ann","k":"p","b":2.65,"v":0.135},{"s":"HQ-ann","k":"p","b":2.6,"v":0.15},{"s":"HQ-ann","k":"p","b":2.55,"v":0.145},{"s":"HQ-ann","k":"p","b":2.5,"v":0.14},{"s":"HQ-ann","k":"p","b":2.45,"v":0.135},{"s":"HQ-ann","k":"p","b":2.4,"v":0.13},{"s":"HQ-ann","k":"p","b":2.35,"v":0.14},{"s":"HQ-ann","k":"p","b":2.3,"v":0.13},{"s":"HQ-ann","k":"p","b":2.25,"v":0.125},{"s":"HQ-ann","k":"p","b":2.2,"v":0.12},{"s":"HQ-ann","k":"p","b":2.15,"v":0.125},{"s":"HQ-ann","k":"p","b":2.1,"v":0.11},{"s":"HQ-ann","k":"p","b":2.05,"v":0.115},{"s":"HQ-ann","k":"p","b":2.0,"v":0.105},{"s":"HQ-ann","k":"p","b":1.95,"v":0.1},{"s":"HQ-ann","k":"p","b":1.9,"v":0.095},{"s":"HQ-ann","k":"p","b":1.85,"v":0.095},{"s":"HQ-ann","k":"p","b":1.8,"v":0.09},{"s":"HQ-ann","k":"p","b":1.75,"v":0.085},{"s":"HQ-ann","k":"p","b":1.7,"v":0.085},{"s":"HQ-ann","k":"p","b":1.65,"v":0.08},{"s":"HQ-ann","k":"p","b":1.6,"v":0.075},{"s":"HQ-ann","k":"p","b":1.55,"v":0.075},{"s":"HQ-ann","k":"p","b":1.5,"v":0.07},{"s":"HQ-ann","k":"p","b":1.45,"v":0.068},{"s":"HQ-ann","k":"p","b":1.4,"v":0.065},{"s":"HQ-ann","k":"p","b":1.35,"v":0.062},{"s":"HQ-ann","k":"p","b":1.3,"v":0.06},{"s":"HQ-ann","k":"p","b":1.25,"v":0.06},{"s":"HQ-ann","k":"p","b":1.2,"v":0.058},{"s":"HQ-ann","k":"p","b":1.15,"v":0.058},{"s":"HQ-ann","k":"p","b":1.1,"v":0.06},{"s":"HQ-ann","k":"p","b":1.05,"v":0.058},{"s":"HQ-ann","k":"p","b":1.0,"v":0.058},{"s":"HQ-ann","k":"p","b":0.95,"v":0.06},{"s":"HQ-ann","k":"p","b":0.9,"v":0.065},{"s":"HQ-ann","k":"p","b":0.85,"v":0.068},{"s":"HQ-ann","k":"p","b":0.8,"v":0.072},{"s":"HQ-ann","k":"p","b":0.75,"v":0.08},{"s":"HQ-ann","k":"p","b":0.7,"v":0.085},{"s":"HQ-ann","k":"p","b":0.65,"v":0.09},{"s":"HQ-ann","k":"p","b":0.6,"v":0.1},{"s":"HQ-ann","k":"p","b":0.55,"v":0.11},{"s":"HQ-ann","k":"p","b":0.5,"v":0.12},{"s":"HQ-ann","k":"p","b":0.45,"v":0.13},{"s":"HQ-ann","k":"p","b":0.4,"v":0.135},{"s":"HQ-ann","k":"p","b":0.35,"v":0.15},{"s":"HQ-ann","k":"p","b":0.3,"v":0.165},{"s":"HQ-ann","k":"p","b":0.25,"v":0.16},{"s":"HQ-ann","k":"p","b":0.2,"v":0.18},{"s":"HQ-ann","k":"p","b":0.15,"v":0.19},{"s":"HQ-ann","k":"p","b":0.1,"v":0.18},{"s":"HQ-ann","k":"p","b":0.05,"v":0.16},{"s":"HQ-ann","k":"p","b":0.0,"v":0.13},{"s":"HQ-ann","k":"p","b":-0.05,"v":0.1},{"s":"HQ-ann","k":"p","b":-0.1,"v":0.07},{"s":"HQ-ann","k":"p","b":-0.15,"v":0.05},{"s":"HQ-ann","k":"p","b":-0.2,"v":0.04},{"s":"HQ-ann","k":"p","b":-0.25,"v":0.036},{"s":"HQ-ann","k":"p","b":-0.3,"v":0.035},{"s":"HQ-ann","k":"p","b":-0.35,"v":0.035},{"s":"HQ-ann","k":"p","b":-0.4,"v":0.036},{"s":"HQ-ann","k":"p","b":-0.45,"v":0.035},{"s":"HQ-ann","k":"p","b":-0.5,"v":0.036},
    {"s":"LQ-as","k":"p","b":3.48,"v":0.96},{"s":"LQ-as","k":"p","b":3.45,"v":0.94},{"s":"LQ-as","k":"p","b":3.4,"v":0.89},{"s":"LQ-as","k":"p","b":3.35,"v":0.84},{"s":"LQ-as","k":"p","b":3.3,"v":0.82},{"s":"LQ-as","k":"p","b":3.25,"v":0.79},{"s":"LQ-as","k":"p","b":3.2,"v":0.745},{"s":"LQ-as","k":"p","b":3.15,"v":0.76},{"s":"LQ-as","k":"p","b":3.1,"v":0.78},{"s":"LQ-as","k":"p","b":3.05,"v":0.8},{"s":"LQ-as","k":"p","b":3.0,"v":0.81},{"s":"LQ-as","k":"p","b":2.95,"v":0.83},{"s":"LQ-as","k":"p","b":2.9,"v":0.825},{"s":"LQ-as","k":"p","b":2.85,"v":0.84},{"s":"LQ-as","k":"p","b":2.8,"v":0.845},{"s":"LQ-as","k":"p","b":2.75,"v":0.85},{"s":"LQ-as","k":"p","b":2.7,"v":0.855},{"s":"LQ-as","k":"p","b":2.65,"v":0.85},{"s":"LQ-as","k":"p","b":2.6,"v":0.83},{"s":"LQ-as","k":"p","b":2.55,"v":0.8},{"s":"LQ-as","k":"p","b":2.5,"v":0.765},{"s":"LQ-as","k":"p","b":2.45,"v":0.725},{"s":"LQ-as","k":"p","b":2.4,"v":0.69},{"s":"LQ-as","k":"p","b":2.35,"v":0.655},{"s":"LQ-as","k":"p","b":2.3,"v":0.62},{"s":"LQ-as","k":"p","b":2.25,"v":0.575},{"s":"LQ-as","k":"p","b":2.2,"v":0.525},{"s":"LQ-as","k":"p","b":2.15,"v":0.475},{"s":"LQ-as","k":"p","b":2.1,"v":0.43},{"s":"LQ-as","k":"p","b":2.05,"v":0.395},{"s":"LQ-as","k":"p","b":2.0,"v":0.36},{"s":"LQ-as","k":"p","b":1.95,"v":0.33},{"s":"LQ-as","k":"p","b":1.9,"v":0.305},{"s":"LQ-as","k":"p","b":1.85,"v":0.28},{"s":"LQ-as","k":"p","b":1.8,"v":0.255},{"s":"LQ-as","k":"p","b":1.75,"v":0.23},{"s":"LQ-as","k":"p","b":1.7,"v":0.21},{"s":"LQ-as","k":"p","b":1.65,"v":0.19},{"s":"LQ-as","k":"p","b":1.6,"v":0.175},{"s":"LQ-as","k":"p","b":1.55,"v":0.16},{"s":"LQ-as","k":"p","b":1.5,"v":0.145},{"s":"LQ-as","k":"p","b":1.45,"v":0.135},{"s":"LQ-as","k":"p","b":1.4,"v":0.125},{"s":"LQ-as","k":"p","b":1.35,"v":0.115},{"s":"LQ-as","k":"p","b":1.3,"v":0.105},{"s":"LQ-as","k":"p","b":1.25,"v":0.1},{"s":"LQ-as","k":"p","b":1.2,"v":0.095},{"s":"LQ-as","k":"p","b":1.15,"v":0.09},{"s":"LQ-as","k":"p","b":1.1,"v":0.088},{"s":"LQ-as","k":"p","b":1.05,"v":0.085},{"s":"LQ-as","k":"p","b":1.0,"v":0.083},{"s":"LQ-as","k":"p","b":0.95,"v":0.082},{"s":"LQ-as","k":"p","b":0.9,"v":0.082},{"s":"LQ-as","k":"p","b":0.85,"v":0.083},{"s":"LQ-as","k":"p","b":0.8,"v":0.082},{"s":"LQ-as","k":"p","b":0.75,"v":0.085},{"s":"LQ-as","k":"p","b":0.7,"v":0.088},{"s":"LQ-as","k":"p","b":0.65,"v":0.09},{"s":"LQ-as","k":"p","b":0.6,"v":0.093},{"s":"LQ-as","k":"p","b":0.55,"v":0.095},{"s":"LQ-as","k":"p","b":0.5,"v":0.1},{"s":"LQ-as","k":"p","b":0.45,"v":0.105},{"s":"LQ-as","k":"p","b":0.4,"v":0.11},{"s":"LQ-as","k":"p","b":0.35,"v":0.12},{"s":"LQ-as","k":"p","b":0.3,"v":0.13},{"s":"LQ-as","k":"p","b":0.25,"v":0.135},{"s":"LQ-as","k":"p","b":0.2,"v":0.125},{"s":"LQ-as","k":"p","b":0.15,"v":0.11},{"s":"LQ-as","k":"p","b":0.1,"v":0.1},{"s":"LQ-as","k":"p","b":0.05,"v":0.09},{"s":"LQ-as","k":"p","b":0.0,"v":0.08},{"s":"LQ-as","k":"p","b":-0.05,"v":0.06},{"s":"LQ-as","k":"p","b":-0.1,"v":0.048},{"s":"LQ-as","k":"p","b":-0.15,"v":0.04},{"s":"LQ-as","k":"p","b":-0.2,"v":0.035},{"s":"LQ-as","k":"p","b":-0.25,"v":0.032},{"s":"LQ-as","k":"p","b":-0.3,"v":0.03},{"s":"LQ-as","k":"p","b":-0.35,"v":0.03},{"s":"LQ-as","k":"p","b":-0.4,"v":0.028},{"s":"LQ-as","k":"p","b":-0.45,"v":0.028},{"s":"LQ-as","k":"p","b":-0.5,"v":0.027},
    {"s":"LQ-ann","k":"p","b":3.48,"v":0.56},{"s":"LQ-ann","k":"p","b":3.45,"v":0.52},{"s":"LQ-ann","k":"p","b":3.4,"v":0.47},{"s":"LQ-ann","k":"p","b":3.35,"v":0.44},{"s":"LQ-ann","k":"p","b":3.3,"v":0.43},{"s":"LQ-ann","k":"p","b":3.25,"v":0.435},{"s":"LQ-ann","k":"p","b":3.2,"v":0.43},{"s":"LQ-ann","k":"p","b":3.15,"v":0.41},{"s":"LQ-ann","k":"p","b":3.1,"v":0.44},{"s":"LQ-ann","k":"p","b":3.05,"v":0.47},{"s":"LQ-ann","k":"p","b":3.0,"v":0.48},{"s":"LQ-ann","k":"p","b":2.95,"v":0.5},{"s":"LQ-ann","k":"p","b":2.9,"v":0.51},{"s":"LQ-ann","k":"p","b":2.85,"v":0.52},{"s":"LQ-ann","k":"p","b":2.8,"v":0.535},{"s":"LQ-ann","k":"p","b":2.75,"v":0.53},{"s":"LQ-ann","k":"p","b":2.7,"v":0.55},{"s":"LQ-ann","k":"p","b":2.65,"v":0.555},{"s":"LQ-ann","k":"p","b":2.6,"v":0.56},{"s":"LQ-ann","k":"p","b":2.55,"v":0.57},{"s":"LQ-ann","k":"p","b":2.52,"v":0.59},{"s":"LQ-ann","k":"p","b":2.5,"v":0.565},{"s":"LQ-ann","k":"p","b":2.47,"v":0.54},{"s":"LQ-ann","k":"p","b":2.4,"v":0.49},{"s":"LQ-ann","k":"p","b":2.35,"v":0.51},{"s":"LQ-ann","k":"p","b":2.3,"v":0.48},{"s":"LQ-ann","k":"p","b":2.25,"v":0.44},{"s":"LQ-ann","k":"p","b":2.2,"v":0.415},{"s":"LQ-ann","k":"p","b":2.15,"v":0.385},{"s":"LQ-ann","k":"p","b":2.1,"v":0.36},{"s":"LQ-ann","k":"p","b":2.05,"v":0.335},{"s":"LQ-ann","k":"p","b":2.0,"v":0.31},{"s":"LQ-ann","k":"p","b":1.95,"v":0.285},{"s":"LQ-ann","k":"p","b":1.9,"v":0.26},{"s":"LQ-ann","k":"p","b":1.85,"v":0.23},{"s":"LQ-ann","k":"p","b":1.8,"v":0.2},{"s":"LQ-ann","k":"p","b":1.75,"v":0.17},{"s":"LQ-ann","k":"p","b":1.7,"v":0.15},{"s":"LQ-ann","k":"p","b":1.65,"v":0.13},{"s":"LQ-ann","k":"p","b":1.6,"v":0.11},{"s":"LQ-ann","k":"p","b":1.55,"v":0.095},{"s":"LQ-ann","k":"p","b":1.5,"v":0.08},{"s":"LQ-ann","k":"p","b":1.45,"v":0.068},{"s":"LQ-ann","k":"p","b":1.4,"v":0.058},{"s":"LQ-ann","k":"p","b":1.35,"v":0.05},{"s":"LQ-ann","k":"p","b":1.3,"v":0.045},{"s":"LQ-ann","k":"p","b":1.25,"v":0.04},{"s":"LQ-ann","k":"p","b":1.2,"v":0.038},{"s":"LQ-ann","k":"p","b":1.15,"v":0.036},{"s":"LQ-ann","k":"p","b":1.1,"v":0.035},{"s":"LQ-ann","k":"p","b":1.05,"v":0.035},{"s":"LQ-ann","k":"p","b":1.0,"v":0.036},{"s":"LQ-ann","k":"p","b":0.95,"v":0.035},{"s":"LQ-ann","k":"p","b":0.9,"v":0.036},{"s":"LQ-ann","k":"p","b":0.85,"v":0.035},{"s":"LQ-ann","k":"p","b":0.8,"v":0.036},{"s":"LQ-ann","k":"p","b":0.75,"v":0.038},{"s":"LQ-ann","k":"p","b":0.7,"v":0.04},{"s":"LQ-ann","k":"p","b":0.65,"v":0.04},{"s":"LQ-ann","k":"p","b":0.6,"v":0.042},{"s":"LQ-ann","k":"p","b":0.55,"v":0.045},{"s":"LQ-ann","k":"p","b":0.5,"v":0.05},{"s":"LQ-ann","k":"p","b":0.45,"v":0.06},{"s":"LQ-ann","k":"p","b":0.4,"v":0.07},{"s":"LQ-ann","k":"p","b":0.35,"v":0.072},{"s":"LQ-ann","k":"p","b":0.3,"v":0.07},{"s":"LQ-ann","k":"p","b":0.25,"v":0.068},{"s":"LQ-ann","k":"p","b":0.2,"v":0.07},{"s":"LQ-ann","k":"p","b":0.15,"v":0.068},{"s":"LQ-ann","k":"p","b":0.1,"v":0.062},{"s":"LQ-ann","k":"p","b":0.05,"v":0.06},{"s":"LQ-ann","k":"p","b":0.0,"v":0.058},{"s":"LQ-ann","k":"p","b":-0.05,"v":0.045},{"s":"LQ-ann","k":"p","b":-0.1,"v":0.03},{"s":"LQ-ann","k":"p","b":-0.15,"v":0.018},{"s":"LQ-ann","k":"p","b":-0.2,"v":0.014},{"s":"LQ-ann","k":"p","b":-0.25,"v":0.012},{"s":"LQ-ann","k":"p","b":-0.3,"v":0.01},{"s":"LQ-ann","k":"p","b":-0.35,"v":0.01},{"s":"LQ-ann","k":"p","b":-0.4,"v":0.008},{"s":"LQ-ann","k":"p","b":-0.45,"v":0.008},{"s":"LQ-ann","k":"p","b":-0.5,"v":0.006},
    {"s":"HQ-as","k":"vbm","b":3.05},{"s":"HQ-ann","k":"vbm","b":3.16},{"s":"LQ-as","k":"vbm","b":3.22},{"s":"LQ-ann","k":"vbm","b":3.29},
    {"s":"HQ-as","k":"ef","b":0},{"s":"HQ-ann","k":"ef","b":0},{"s":"LQ-as","k":"ef","b":0},{"s":"LQ-ann","k":"ef","b":0},
    {"s":"HQ-as","k":"lab","b":2.27,"v":0.81,"t":"HQ-as"},{"s":"HQ-ann","k":"lab","b":2.27,"v":0.83,"t":"HQ-ann"},{"s":"LQ-as","k":"lab","b":2.27,"v":0.83,"t":"LQ-as"},{"s":"LQ-ann","k":"lab","b":2.27,"v":0.8,"t":"LQ-ann"},
    {"s":"HQ-as","k":"eq","b":1.363,"v":0.5,"m":"E","u":"VBM","r":"≃ 3.1 eV"},{"s":"HQ-as","k":"eq","b":1.363,"v":0.265,"m":"N","u":"VBM","r":"≃ 2.6×10²⁰ cm⁻³"},
    {"s":"HQ-ann","k":"eq","b":1.363,"v":0.56,"m":"E","u":"VBM","r":"≃ 3.2 eV"},{"s":"HQ-ann","k":"eq","b":1.363,"v":0.36,"m":"N","u":"VBM","r":"≃ 1.6×10²⁰ cm⁻³"},
    {"s":"LQ-as","k":"eq","b":1.363,"v":0.58,"m":"E","u":"VBM","r":"≃ 3.2 eV"},{"s":"LQ-as","k":"eq","b":1.363,"v":0.36,"m":"N","u":"VBM","r":"≃ 9.3×10²⁰ cm⁻³"},
    {"s":"LQ-ann","k":"eq","b":1.363,"v":0.53,"m":"E","u":"VBM","r":"≃ 3.3 eV"},{"s":"LQ-ann","k":"eq","b":1.363,"v":0.29,"m":"N","u":"VBM","r":"≃ 5.0×10²⁰ cm⁻³"},
    {"s":"HQ-as","k":"top","b":3.0,"v":0.8,"m":"E","u":"VBM"},{"s":"HQ-as","k":"top","b":-0.03,"v":0.8,"m":"E","u":"F"}
   ]},
   "facet": {"row": {"field": "s", "type": "nominal", "sort": ["HQ-as", "HQ-ann", "LQ-as", "LQ-ann"],
             "header": {"labels": false, "title": "Intensity (a.u.)", "titleFontSize": 15, "titleFontWeight": "normal", "titleColor": "#231f20", "titleFont": "Open Sans", "titlePadding": -8, "labelPadding": 0}}},
   "spacing": {"row": 0},
   "bounds": "flush",
   "spec": {"width": 313, "height": 73.5,
    "layer": [
     {"transform": [{"filter": "datum.k == 'vbm'"}],
      "mark": {"type": "rule", "strokeDash": [3, 2], "color": "#231f20", "strokeWidth": 1},
      "encoding": {"x": {"field": "b", "type": "quantitative", "scale": {"domain": [-0.5, 3.5], "reverse": true, "nice": false, "zero": false},
        "axis": {"values": [-0.5,-0.4,-0.3,-0.2,-0.1,0,0.1,0.2,0.3,0.4,0.5,0.6,0.7,0.8,0.9,1,1.1,1.2,1.3,1.4,1.5,1.6,1.7,1.8,1.9,2,2.1,2.2,2.3,2.4,2.5,2.6,2.7,2.8,2.9,3,3.1,3.2,3.3,3.4,3.5], "tickCount": 100, "labelExpr": "(datum.value * 2) % 1 == 0 ? (datum.value == 0 ? '0' : format(datum.value, '.1f')) : ''", "tickSize": {"condition": {"test": "(datum.value * 2) % 1 == 0", "value": 6}, "value": 3}, "labelPadding": 2, "labelOverlap": false, "title": "Binding energy (eV)", "titlePadding": 4}}}},
     {"transform": [{"filter": "datum.k == 'ef'"}],
      "mark": {"type": "rule", "strokeDash": [3, 2], "color": "#6d6e71", "strokeWidth": 1},
      "encoding": {"x": {"field": "b", "type": "quantitative"}}},
     {"transform": [{"filter": "datum.k == 'p' && (datum.s == 'HQ-ann' || datum.s == 'LQ-ann')"}],
      "mark": {"type": "line", "strokeWidth": 2},
      "encoding": {"x": {"field": "b", "type": "quantitative"}, "y": {"field": "v", "type": "quantitative", "scale": {"domain": [0, 1], "nice": false}, "axis": null},
        "color": {"field": "s", "type": "nominal", "scale": {"domain": ["HQ-as", "HQ-ann", "LQ-as", "LQ-ann"], "range": ["#2e3192", "#1f1a6e", "#d0533c", "#c2452f"]}, "legend": null}}},
     {"transform": [{"filter": "datum.k == 'p' && (datum.s == 'HQ-ann' || datum.s == 'LQ-ann')"}],
      "mark": {"type": "point", "filled": true, "size": 10, "opacity": 1},
      "encoding": {"x": {"field": "b", "type": "quantitative"}, "y": {"field": "v", "type": "quantitative", "axis": null}, "color": {"field": "s", "type": "nominal", "legend": null}}},
     {"transform": [{"filter": "datum.k == 'p' && (datum.s == 'HQ-as' || datum.s == 'LQ-as')"}],
      "mark": {"type": "point", "filled": false, "size": 11, "strokeWidth": 0.9, "opacity": 1},
      "encoding": {"x": {"field": "b", "type": "quantitative"}, "y": {"field": "v", "type": "quantitative", "axis": null}, "color": {"field": "s", "type": "nominal", "legend": null}}},
     {"transform": [{"filter": "datum.k == 'lab'"}],
      "mark": {"type": "text", "align": "left", "baseline": "middle", "fontSize": 16},
      "encoding": {"x": {"field": "b", "type": "quantitative"}, "y": {"field": "v", "type": "quantitative", "axis": null}, "text": {"field": "t"}}},
     {"transform": [{"filter": "datum.k == 'eq'"}],
      "mark": {"type": "text", "align": "right", "baseline": "middle", "fontSize": 14, "fontStyle": "italic", "dx": -25},
      "encoding": {"x": {"field": "b", "type": "quantitative"}, "y": {"field": "v", "type": "quantitative", "axis": null}, "text": {"field": "m"}}},
     {"transform": [{"filter": "datum.k == 'eq'"}],
      "mark": {"type": "text", "align": "right", "baseline": "middle", "fontSize": 9.5, "dx": -3, "dy": 4},
      "encoding": {"x": {"field": "b", "type": "quantitative"}, "y": {"field": "v", "type": "quantitative", "axis": null}, "text": {"field": "u"}}},
     {"transform": [{"filter": "datum.k == 'eq'"}],
      "mark": {"type": "text", "align": "left", "baseline": "middle", "fontSize": 14},
      "encoding": {"x": {"field": "b", "type": "quantitative"}, "y": {"field": "v", "type": "quantitative", "axis": null}, "text": {"field": "r"}}},
     {"transform": [{"filter": "datum.k == 'top'"}],
      "mark": {"type": "text", "align": "left", "baseline": "middle", "fontSize": 15, "fontStyle": "italic"},
      "encoding": {"x": {"field": "b", "type": "quantitative"}, "y": {"field": "v", "type": "quantitative", "axis": null}, "text": {"field": "m"}}},
     {"transform": [{"filter": "datum.k == 'top'"}],
      "mark": {"type": "text", "align": "left", "baseline": "middle", "fontSize": 11, "dx": 9, "dy": 4},
      "encoding": {"x": {"field": "b", "type": "quantitative"}, "y": {"field": "v", "type": "quantitative", "axis": null}, "text": {"field": "u"}}}
    ]}}
 ], "spacing": 4, "resolve": {"scale": {"color": "independent"}, "legend": {"color": "independent"}}}
]
}
